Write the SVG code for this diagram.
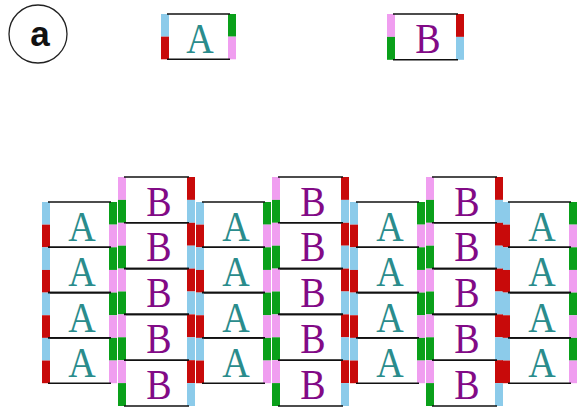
<svg xmlns="http://www.w3.org/2000/svg" xmlns:xlink="http://www.w3.org/1999/xlink" width="577" height="410" viewBox="0 0 577 410">
  <style>
    .blue { fill: #8ccbea; }
    .red { fill: #c80a0a; }
    .green { fill: #0aa01a; }
    .pink { fill: #f09ef0; }
    .edge { stroke: #111; stroke-width: 1.6; fill: none; }
    .ta { font-family: "Liberation Serif", "Times New Roman", serif; font-size: 38px; fill: #2a8c8c; text-anchor: middle; }
    .tb { font-family: "Liberation Serif", "Times New Roman", serif; font-size: 38px; fill: #820a86; text-anchor: middle; }
    .lbl { font-family: "Liberation Sans", Arial, sans-serif; font-size: 35px; font-weight: bold; fill: #111; text-anchor: middle; }
  </style>
  <defs>
    <!-- Tile A: left edge blue over red, right edge green over pink -->
    <g id="frameA">
      <rect class="blue" x="0" y="0" width="8" height="22.65"/>
      <rect class="red" x="0" y="22.65" width="8" height="22.65"/>
      <rect class="green" x="67" y="0" width="8" height="22.65"/>
      <rect class="pink" x="67" y="22.65" width="8" height="22.65"/>
      <line class="edge" x1="6" y1="0" x2="69" y2="0"/>
      <line class="edge" x1="6" y1="45.3" x2="69" y2="45.3"/>
    </g>
    <!-- Tile B: left edge pink over green, right edge red over blue -->
    <g id="frameB">
      <rect class="pink" x="0" y="0" width="8" height="22.9"/>
      <rect class="green" x="0" y="22.9" width="8" height="22.9"/>
      <rect class="red" x="69" y="0" width="8" height="22.9"/>
      <rect class="blue" x="69" y="22.9" width="8" height="22.9"/>
      <line class="edge" x1="6" y1="0" x2="71" y2="0"/>
      <line class="edge" x1="6" y1="45.8" x2="71" y2="45.8"/>
    </g>
  </defs>

  <rect x="0" y="0" width="577" height="410" fill="#ffffff"/>

  <!-- panel label -->
  <g id="label-a">
    <circle cx="38" cy="34" r="29" fill="#fff" stroke="#222" stroke-width="1.3"/>
    <text class="lbl" x="40" y="46">a</text>
  </g>

  <!-- the two prototiles -->
  <g id="proto-A"><use xlink:href="#frameA" x="161" y="14"/><text class="ta" transform="translate(200,53) scale(1,1.13)">A</text></g>
  <g id="proto-B"><use xlink:href="#frameB" x="387" y="14"/><text class="tb" transform="translate(428,52.5) scale(1,1.13)">B</text></g>

  <!-- tiling: A columns -->
  <g id="A-c1-r1"><use xlink:href="#frameA" x="42" y="202"/><text class="ta" transform="translate(82,241) scale(1,1.13)">A</text></g>
  <g id="A-c1-r2"><use xlink:href="#frameA" x="42" y="247.3"/><text class="ta" transform="translate(82,286.3) scale(1,1.13)">A</text></g>
  <g id="A-c1-r3"><use xlink:href="#frameA" x="42" y="292.6"/><text class="ta" transform="translate(82,331.6) scale(1,1.13)">A</text></g>
  <g id="A-c1-r4"><use xlink:href="#frameA" x="42" y="337.9"/><text class="ta" transform="translate(82,376.9) scale(1,1.13)">A</text></g>

  <g id="A-c2-r1"><use xlink:href="#frameA" x="196" y="202"/><text class="ta" transform="translate(236,241) scale(1,1.13)">A</text></g>
  <g id="A-c2-r2"><use xlink:href="#frameA" x="196" y="247.3"/><text class="ta" transform="translate(236,286.3) scale(1,1.13)">A</text></g>
  <g id="A-c2-r3"><use xlink:href="#frameA" x="196" y="292.6"/><text class="ta" transform="translate(236,331.6) scale(1,1.13)">A</text></g>
  <g id="A-c2-r4"><use xlink:href="#frameA" x="196" y="337.9"/><text class="ta" transform="translate(236,376.9) scale(1,1.13)">A</text></g>

  <g id="A-c3-r1"><use xlink:href="#frameA" x="350" y="202"/><text class="ta" transform="translate(390,241) scale(1,1.13)">A</text></g>
  <g id="A-c3-r2"><use xlink:href="#frameA" x="350" y="247.3"/><text class="ta" transform="translate(390,286.3) scale(1,1.13)">A</text></g>
  <g id="A-c3-r3"><use xlink:href="#frameA" x="350" y="292.6"/><text class="ta" transform="translate(390,331.6) scale(1,1.13)">A</text></g>
  <g id="A-c3-r4"><use xlink:href="#frameA" x="350" y="337.9"/><text class="ta" transform="translate(390,376.9) scale(1,1.13)">A</text></g>

  <g id="A-c4-r1"><use xlink:href="#frameA" x="502" y="202"/><text class="ta" transform="translate(542,241) scale(1,1.13)">A</text></g>
  <g id="A-c4-r2"><use xlink:href="#frameA" x="502" y="247.3"/><text class="ta" transform="translate(542,286.3) scale(1,1.13)">A</text></g>
  <g id="A-c4-r3"><use xlink:href="#frameA" x="502" y="292.6"/><text class="ta" transform="translate(542,331.6) scale(1,1.13)">A</text></g>
  <g id="A-c4-r4"><use xlink:href="#frameA" x="502" y="337.9"/><text class="ta" transform="translate(542,376.9) scale(1,1.13)">A</text></g>

  <!-- tiling: B columns -->
  <g id="B-c1-r1"><use xlink:href="#frameB" x="118" y="177"/><text class="tb" transform="translate(159,215.5) scale(1,1.13)">B</text></g>
  <g id="B-c1-r2"><use xlink:href="#frameB" x="118" y="222.8"/><text class="tb" transform="translate(159,261.3) scale(1,1.13)">B</text></g>
  <g id="B-c1-r3"><use xlink:href="#frameB" x="118" y="268.6"/><text class="tb" transform="translate(159,307.1) scale(1,1.13)">B</text></g>
  <g id="B-c1-r4"><use xlink:href="#frameB" x="118" y="314.4"/><text class="tb" transform="translate(159,352.9) scale(1,1.13)">B</text></g>
  <g id="B-c1-r5"><use xlink:href="#frameB" x="118" y="360.2"/><text class="tb" transform="translate(159,398.7) scale(1,1.13)">B</text></g>

  <g id="B-c2-r1"><use xlink:href="#frameB" x="272" y="177"/><text class="tb" transform="translate(313,215.5) scale(1,1.13)">B</text></g>
  <g id="B-c2-r2"><use xlink:href="#frameB" x="272" y="222.8"/><text class="tb" transform="translate(313,261.3) scale(1,1.13)">B</text></g>
  <g id="B-c2-r3"><use xlink:href="#frameB" x="272" y="268.6"/><text class="tb" transform="translate(313,307.1) scale(1,1.13)">B</text></g>
  <g id="B-c2-r4"><use xlink:href="#frameB" x="272" y="314.4"/><text class="tb" transform="translate(313,352.9) scale(1,1.13)">B</text></g>
  <g id="B-c2-r5"><use xlink:href="#frameB" x="272" y="360.2"/><text class="tb" transform="translate(313,398.7) scale(1,1.13)">B</text></g>

  <g id="B-c3-r1"><use xlink:href="#frameB" x="426" y="177"/><text class="tb" transform="translate(467,215.5) scale(1,1.13)">B</text></g>
  <g id="B-c3-r2"><use xlink:href="#frameB" x="426" y="222.8"/><text class="tb" transform="translate(467,261.3) scale(1,1.13)">B</text></g>
  <g id="B-c3-r3"><use xlink:href="#frameB" x="426" y="268.6"/><text class="tb" transform="translate(467,307.1) scale(1,1.13)">B</text></g>
  <g id="B-c3-r4"><use xlink:href="#frameB" x="426" y="314.4"/><text class="tb" transform="translate(467,352.9) scale(1,1.13)">B</text></g>
  <g id="B-c3-r5"><use xlink:href="#frameB" x="426" y="360.2"/><text class="tb" transform="translate(467,398.7) scale(1,1.13)">B</text></g>
</svg>
